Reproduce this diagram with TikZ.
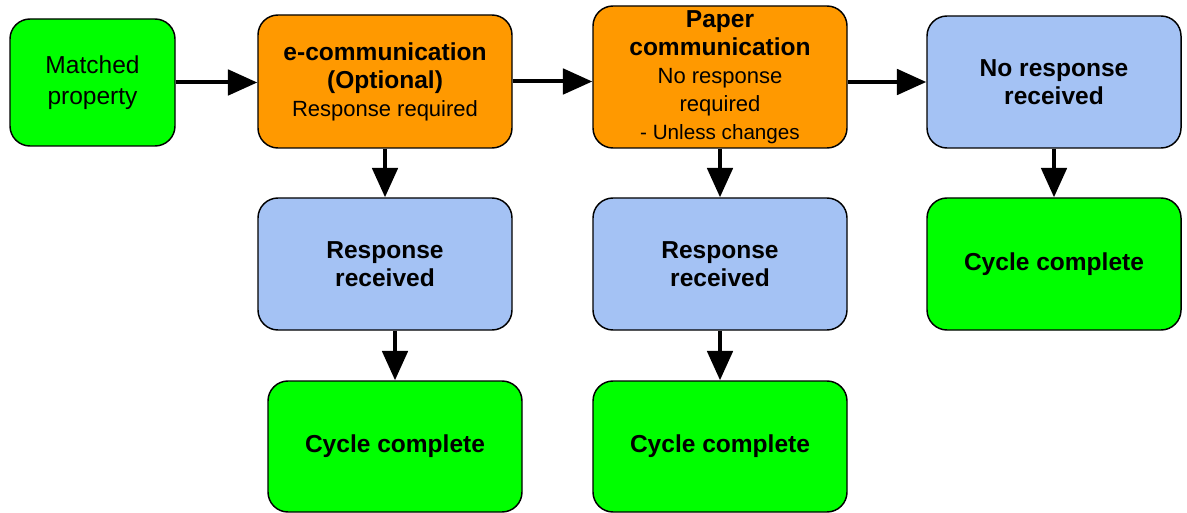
\documentclass[tikz,border=0pt]{standalone}
\usepackage{fontspec}
\setmainfont{Liberation Sans}
\usetikzlibrary{arrows.meta}

\tikzset{every picture/.style={line width=0.75pt}}
\definecolor{boxgreen}{RGB}{0,255,0}
\definecolor{boxorange}{RGB}{255,153,0}
\definecolor{boxblue}{RGB}{164,194,244}
\newcommand{\hdr}{\fontsize{18.4}{23}\selectfont\bfseries}
\newcommand{\note}{\fontsize{15.5}{20}\selectfont}
\tikzset{
  flowbox/.style={draw=black, line width=1.1pt, rounded corners=15pt, align=center, inner sep=0pt,
    minimum width=190.5pt, minimum height=99pt, font=\fontsize{16.5}{21}\selectfont},
  flowarrow/.style={line width=3pt, -{Triangle[length=22pt,width=19pt]}}
}

\begin{document}
\begin{tikzpicture}[x=0.75pt,y=0.75pt,yscale=-1]
\useasboundingbox (0,0) rectangle (1187,513);

%Shape: Rounded Rect [top row]
\node (matched) at (92.5,82.5) [flowbox, fill=boxgreen, minimum width=123.75pt, minimum height=95.25pt, font=\fontsize{18.4}{23}\selectfont] {Matched\\property};
\node (ecomm) at (385,81.5) [flowbox, fill=boxorange, minimum height=99.75pt] {{\hdr e-communication}\\{\hdr (Optional)}\\Response required};
\node (paper) at (720,77) [flowbox, fill=boxorange, minimum height=106.5pt] {{\hdr Paper}\\{\hdr communication}\\No response\\required\\{\note - Unless changes}};
\node (noresp) at (1054,82) [flowbox, fill=boxblue] {{\hdr No response}\\{\hdr received}};

%Shape: Rounded Rect [middle row]
\node (resp1) at (385,264) [flowbox, fill=boxblue] {{\hdr Response}\\{\hdr received}};
\node (resp2) at (720,264) [flowbox, fill=boxblue] {{\hdr Response}\\{\hdr received}};
\node (done3) at (1054,264) [flowbox, fill=boxgreen] {\hdr Cycle complete};

%Shape: Rounded Rect [bottom row]
\node (done1) at (395,446.5) [flowbox, fill=boxgreen, minimum height=98.25pt] {\hdr Cycle complete};
\node (done2) at (720,446.5) [flowbox, fill=boxgreen, minimum height=98.25pt] {\hdr Cycle complete};

%Straight Lines [across]
\draw [flowarrow] (matched.east) -- (matched.east -| ecomm.west);
\draw [flowarrow] (ecomm.east) -- (ecomm.east -| paper.west);
\draw [flowarrow] (paper.east |- noresp.west) -- (noresp.west);

%Straight Lines [down]
\draw [flowarrow] (ecomm.south) -- (resp1.north);
\draw [flowarrow] (paper.south) -- (resp2.north);
\draw [flowarrow] (noresp.south) -- (done3.north);
\draw [flowarrow] (resp1.south -| done1.north) -- (done1.north);
\draw [flowarrow] (resp2.south) -- (done2.north);

\end{tikzpicture}
\end{document}
